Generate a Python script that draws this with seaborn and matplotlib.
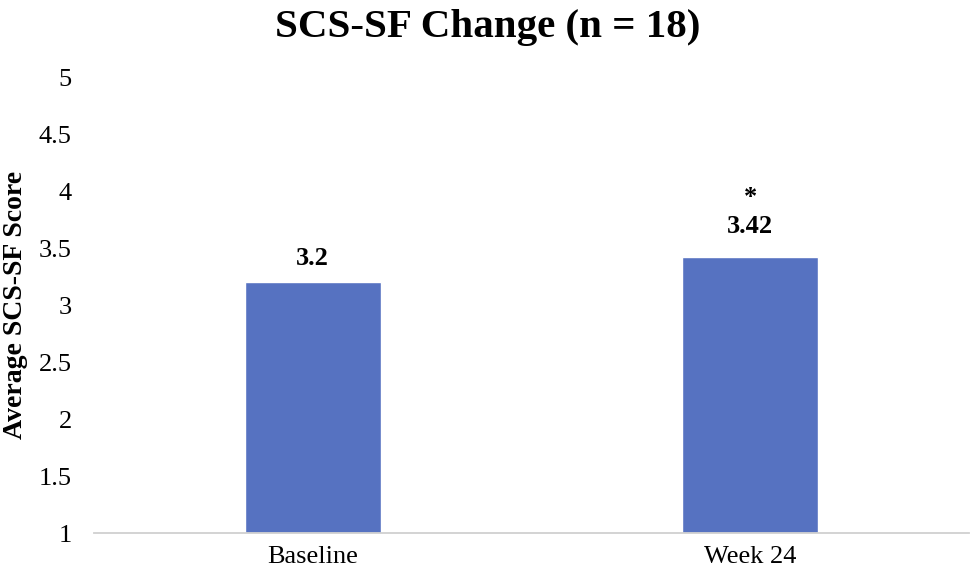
import pandas as pd
import seaborn as sns
import matplotlib.pyplot as plt

# data
timepoints = ["Baseline", "Week 24"]
scores = [3.2, 3.42]
value_labels = ["3.2", "3.42"]
sig_marks = ["", "*"]

df = pd.DataFrame({"timepoint": timepoints, "score": scores})

sns.set_theme(style="white")
plt.rcParams['font.family'] = ['Liberation Serif', 'DejaVu Serif']
plt.rcParams['text.color'] = 'black'
plt.rcParams['axes.labelcolor'] = 'black'

fig = plt.figure(figsize=(9.75, 5.79), dpi=100)
ax = fig.add_axes([0.0964, 0.0794, 0.8974, 0.7876])

sns.barplot(data=df, x="timepoint", y="score", color="#5672C1", width=0.31,
            saturation=1, ax=ax)
# bars start from the axis floor at 1
for p in ax.patches:
    p.set_y(1)
    p.set_height(p.get_height() - 1)

ax.set_ylim(1, 5)
ax.set_yticks([1, 1.5, 2, 2.5, 3, 3.5, 4, 4.5, 5])
ax.set_yticklabels(["1", "1.5", "2", "2.5", "3", "3.5", "4", "4.5", "5"])
ax.tick_params(axis="both", labelsize=19, length=0, colors="black")
ax.tick_params(axis="y", pad=16)
ax.tick_params(axis="x", pad=9)

for side in ["top", "right", "left"]:
    ax.spines[side].set_visible(False)
ax.spines["bottom"].set_color("#d0d0d0")
ax.spines["bottom"].set_linewidth(1.3)

label_offsets = [17, 22]
for i, (v, lab, mark) in enumerate(zip(scores, value_labels, sig_marks)):
    ax.annotate(lab, (i, v), xytext=(0, label_offsets[i]), textcoords="offset points",
                ha="center", va="center", fontsize=19, fontweight="bold", color="black")
    if mark:
        ax.annotate(mark, (i, v), xytext=(0, 43), textcoords="offset points",
                    ha="center", va="center", fontsize=19, fontweight="bold", color="black")

ax.set_xlabel("")
ax.set_ylabel("Average SCS-SF Score", fontsize=20, fontweight="bold", color="black")
ax.yaxis.set_label_coords(-0.075, 0.5)
fig.suptitle("SCS-SF Change (n = 18)", fontsize=29.5, fontweight="bold", y=0.985,
             color="black")

fig.savefig("out.png", dpi=100)
